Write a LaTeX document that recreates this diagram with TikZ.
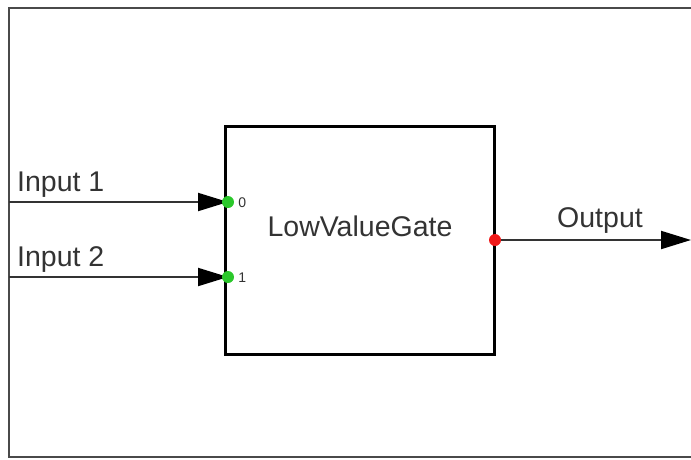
\documentclass[tikz,border=0pt]{standalone}
\usepackage{fontspec}
\setmainfont{Liberation Sans}
\usetikzlibrary{arrows.meta,positioning}
\definecolor{ink}{HTML}{333333}
\definecolor{frameline}{HTML}{4A4A4A}
\definecolor{portG}{HTML}{2BC82B}
\definecolor{portR}{HTML}{F01818}

\begin{document}
\begin{tikzpicture}[x=1pt,y=-1pt,
    >={Triangle[length=30pt,width=18pt,fill=black,color=black]},
    gate/.style={draw=black,line width=3pt,minimum width=269pt,
                 minimum height=228pt,inner sep=0pt},
    wire/.style={ink,line width=2pt},
    port/.style={circle,inner sep=0pt,minimum size=12pt},
    txt/.style={text=ink,font=\fontsize{28.5}{32}\selectfont,inner sep=0pt},
    pin/.style={text=ink,font=\fontsize{14}{16}\selectfont,inner sep=0pt}]
    \useasboundingbox (0,0) rectangle (691,459);
    % outer frame, cut off at the right
    \draw[frameline,line width=2pt] (691,8) -| (9,457) -- (691,457);
    % block
    \node[gate] (lvg) at (359.5,240) {};
    \node[txt] (lvgname) at (360,226) {LowValueGate};
    % ports
    \coordinate (in0) at (228,202);
    \coordinate (in1) at (228,277);
    \coordinate (out) at (495,240);
    \coordinate (src0) at (9,202);
    \coordinate (src1) at (9,277);
    \coordinate (sink) at (691,240);
    % wires
    \draw[wire,->] (src0) -- (in0);
    \draw[wire,->] (src1) -- (in1);
    \draw[wire,->] (out) -- (sink);
    \node[port,fill=portG] (p0) at (in0) {};
    \node[port,fill=portG] (p1) at (in1) {};
    \node[port,fill=portR] (pout) at (out) {};
    \node[pin,right=4pt of p0,yshift=-1pt] (n0) {0};
    \node[pin,right=4pt of p1,yshift=-1pt] (n1) {1};
    % labels
    \node[txt,anchor=west] (lbl1) at (17,185) {Input 1};
    \node[txt,anchor=west] (lbl2) at (17,259) {Input 2};
    \node[txt] (lblout) at (600,220) {Output};
\end{tikzpicture}
\end{document}
